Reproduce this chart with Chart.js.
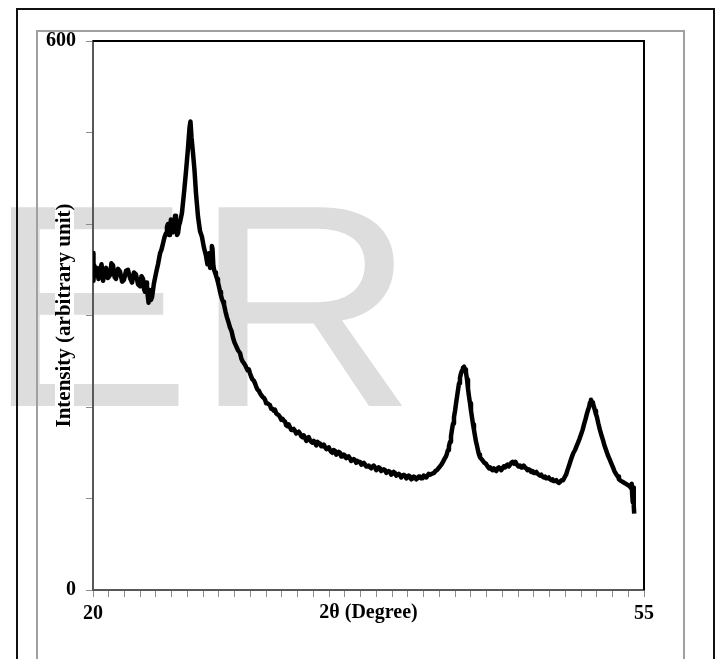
<!DOCTYPE html>
<html>
<head>
<meta charset="utf-8">
<script src="https://cdn.jsdelivr.net/npm/chart.js@4"></script>
<style>
  body { margin: 0; background: #fff; }
  canvas { display: block; }
</style>
</head>
<body>
<canvas id="xrd" width="717" height="659"></canvas>
<script>
// 2 theta positions (degree)
const twoTheta = [
  20.00, 20.03, 20.08, 20.15, 20.25, 20.35, 20.44, 20.54, 20.64, 20.74,
  20.83, 20.95, 21.08, 21.17, 21.27, 21.37, 21.46, 21.59, 21.72, 21.85,
  21.97, 22.10, 22.22, 22.35, 22.48, 22.60, 22.73, 22.86, 22.99, 23.08,
  23.18, 23.24, 23.30, 23.37, 23.43, 23.48, 23.53, 23.58, 23.62, 23.68,
  23.75, 23.87, 24.00, 24.13, 24.26, 24.35, 24.45, 24.55, 24.64, 24.70,
  24.76, 24.83, 24.89, 24.95, 25.02, 25.08, 25.15, 25.21, 25.27, 25.34,
  25.40, 25.47, 25.53, 25.65, 25.78, 25.91, 26.03, 26.13, 26.19, 26.26,
  26.35, 26.45, 26.54, 26.67, 26.80, 26.92, 27.05, 27.18, 27.27, 27.32,
  27.37, 27.44, 27.50, 27.55, 27.59, 27.64, 27.69, 27.75, 27.81, 27.88,
  27.94, 28.01, 28.07, 28.13, 28.19, 28.26, 28.32, 28.42, 28.51, 28.60,
  28.70, 28.80, 28.89, 28.98, 29.08, 29.21, 29.34, 29.42, 29.50, 29.58,
  29.66, 29.74, 29.82, 29.90, 29.97, 30.05, 30.13, 30.21, 30.29, 30.37,
  30.45, 30.53, 30.61, 30.69, 30.77, 30.85, 30.93, 31.00, 31.08, 31.16,
  31.24, 31.32, 31.40, 31.48, 31.56, 31.64, 31.72, 31.80, 31.88, 31.96,
  32.04, 32.12, 32.20, 32.27, 32.35, 32.43, 32.51, 32.59, 32.67, 32.75,
  32.83, 32.91, 32.99, 33.07, 33.15, 33.23, 33.31, 33.39, 33.47, 33.55,
  33.62, 33.70, 33.78, 33.86, 33.94, 34.02, 34.10, 34.18, 34.26, 34.34,
  34.42, 34.50, 34.58, 34.66, 34.74, 34.82, 34.90, 34.98, 35.05, 35.13,
  35.21, 35.29, 35.37, 35.45, 35.53, 35.61, 35.69, 35.77, 35.85, 35.93,
  36.01, 36.08, 36.16, 36.24, 36.32, 36.40, 36.48, 36.56, 36.64, 36.72,
  36.80, 36.88, 36.96, 37.04, 37.12, 37.20, 37.28, 37.36, 37.43, 37.51,
  37.60, 37.67, 37.75, 37.83, 37.91, 37.99, 38.07, 38.15, 38.23, 38.31,
  38.39, 38.47, 38.55, 38.63, 38.70, 38.78, 38.87, 38.94, 39.02, 39.10,
  39.18, 39.26, 39.34, 39.42, 39.50, 39.58, 39.66, 39.74, 39.82, 39.90,
  39.98, 40.06, 40.14, 40.22, 40.30, 40.38, 40.45, 40.53, 40.61, 40.69,
  40.77, 40.85, 40.93, 41.01, 41.09, 41.17, 41.25, 41.33, 41.41, 41.53,
  41.66, 41.75, 41.85, 41.94, 42.04, 42.13, 42.23, 42.32, 42.42, 42.48,
  42.55, 42.61, 42.68, 42.74, 42.80, 42.87, 42.93, 43.00, 43.06, 43.13,
  43.19, 43.25, 43.31, 43.38, 43.44, 43.50, 43.57, 43.63, 43.69, 43.76,
  43.82, 43.88, 43.95, 44.01, 44.08, 44.14, 44.20, 44.27, 44.33, 44.40,
  44.46, 44.52, 44.58, 44.68, 44.77, 44.86, 44.96, 45.03, 45.09, 45.16,
  45.22, 45.30, 45.38, 45.46, 45.54, 45.62, 45.70, 45.78, 45.85, 45.93,
  46.01, 46.09, 46.17, 46.25, 46.33, 46.41, 46.49, 46.57, 46.65, 46.74,
  46.83, 46.93, 47.02, 47.12, 47.20, 47.28, 47.36, 47.44, 47.52, 47.60,
  47.68, 47.76, 47.84, 47.92, 48.00, 48.08, 48.16, 48.24, 48.32, 48.39,
  48.47, 48.55, 48.63, 48.71, 48.79, 48.87, 48.95, 49.03, 49.11, 49.19,
  49.27, 49.35, 49.43, 49.51, 49.59, 49.66, 49.76, 49.86, 49.95, 50.05,
  50.14, 50.24, 50.33, 50.43, 50.52, 50.62, 50.71, 50.81, 50.90, 51.00,
  51.10, 51.19, 51.29, 51.38, 51.45, 51.51, 51.57, 51.63, 51.70, 51.76,
  51.82, 51.89, 51.95, 52.01, 52.10, 52.20, 52.30, 52.39, 52.49, 52.59,
  52.71, 52.84, 52.93, 53.03, 53.12, 53.22, 53.29, 53.35, 53.41, 53.47,
  53.56, 53.66, 53.76, 53.86, 53.95, 54.05, 54.11, 54.18, 54.22, 54.25,
  54.27, 54.30, 54.33, 54.35, 54.37
];

// intensity (arbitrary unit) at the positions above
const intensity = [
  368, 338, 355, 344, 352, 340, 350, 356, 338, 347,
  352, 341, 344, 357, 355, 342, 340, 351, 348, 337,
  339, 349, 350, 341, 336, 347, 345, 334, 332, 343,
  340, 329, 326, 336, 332, 321, 314, 326, 328, 317,
  320, 335, 346, 356, 368, 372, 379, 386, 390, 397,
  400, 388, 393, 405, 404, 391, 392, 409, 406, 388,
  390, 399, 402, 412, 434, 458, 482, 505, 512, 494,
  478, 458, 434, 408, 392, 386, 374, 365, 356, 362,
  368, 352, 356, 376, 373, 356, 350, 347, 344, 340,
  336, 331, 326, 322, 318, 315, 312, 304, 298, 293,
  287, 283, 276, 271, 267, 262, 259, 253, 250, 248,
  246, 243, 240, 241, 237, 233, 230, 229, 226, 222,
  219, 218, 215, 213, 211, 210, 208, 204, 204, 203,
  202, 198, 198, 196, 197, 193, 192, 191, 189, 186,
  187, 185, 184, 180, 179, 181, 178, 175, 175, 176,
  174, 171, 172, 173, 171, 168, 167, 169, 166, 163,
  166, 167, 164, 162, 161, 163, 161, 158, 162, 160,
  160, 157, 157, 159, 156, 154, 155, 156, 153, 151,
  150, 153, 152, 148, 149, 151, 150, 146, 146, 148,
  147, 144, 145, 146, 144, 141, 142, 143, 142, 139,
  141, 140, 140, 137, 138, 139, 137, 135, 135, 136,
  134, 133, 135, 136, 134, 131, 132, 134, 133, 130,
  131, 132, 131, 128, 129, 130, 129, 126, 127, 129,
  128, 125, 126, 127, 126, 123, 125, 126, 125, 122,
  123, 125, 124, 121, 122, 124, 123, 121, 122, 124,
  124, 122, 122, 125, 124, 123, 125, 127, 126, 127,
  128, 130, 131, 133, 135, 137, 140, 143, 146, 149,
  153, 157, 162, 168, 175, 182, 189, 196, 204, 212,
  219, 226, 232, 237, 240, 243, 244, 241, 238, 230,
  220, 212, 204, 196, 188, 181, 175, 168, 162, 157,
  152, 148, 145, 143, 141, 139, 138, 136, 136, 133,
  134, 132, 131, 133, 131, 130, 133, 134, 133, 131,
  133, 135, 134, 136, 137, 135, 137, 139, 140, 138,
  140, 137, 135, 136, 134, 134, 136, 134, 133, 131,
  132, 131, 129, 130, 128, 128, 129, 127, 126, 125,
  126, 124, 123, 124, 122, 122, 123, 121, 120, 121,
  119, 119, 120, 118, 117, 118, 120, 120, 123, 126,
  131, 136, 141, 146, 150, 153, 157, 161, 165, 170,
  175, 181, 187, 193, 197, 200, 205, 208, 205, 204,
  200, 196, 192, 189, 182, 175, 169, 164, 158, 153,
  147, 142, 138, 134, 130, 127, 125, 124, 121, 120,
  119, 118, 117, 116, 115, 114, 113, 111, 116, 104,
  106, 96, 112, 92, 86
];

const xTickLabels = [20, 55];
const yTickLabels = [0, 600];

const points = twoTheta.map(function (t, i) {
  return { x: t, y: intensity[i] };
});

const serifFamily = "'Liberation Serif', 'Times New Roman', serif";
const tickFont = { family: serifFamily, weight: 'bold', size: 20 };

// frames, watermark and white box behind the y title
const framePlugin = {
  id: 'framePlugin',
  beforeDraw(chart) {
    const ctx = chart.ctx;
    ctx.save();
    ctx.fillStyle = '#ffffff';
    ctx.fillRect(0, 0, chart.width, chart.height);

    ctx.save();
    ctx.fillStyle = '#dddddd';
    ctx.font = "289px 'Liberation Sans', Arial, sans-serif";
    ctx.textBaseline = 'alphabetic';
    ctx.textAlign = 'left';
    ctx.scale(1.07, 1);
    ctx.fillText('E', -13.5, 406);
    ctx.fillText('R', 180.6, 406);
    ctx.restore();

    ctx.fillStyle = '#ffffff';
    ctx.fillRect(55, 207, 19, 234);

    ctx.lineWidth = 2;
    ctx.strokeStyle = '#111111';
    ctx.strokeRect(17, 9, 697, 680);
    ctx.strokeStyle = '#a0a0a0';
    ctx.strokeRect(37, 31, 647, 680);
    ctx.restore();
  },
  afterDraw(chart) {
    const a = chart.chartArea;
    const ctx = chart.ctx;
    ctx.save();
    ctx.strokeStyle = '#000000';
    ctx.lineWidth = 2;
    ctx.beginPath();
    ctx.moveTo(a.left, a.top);
    ctx.lineTo(a.right, a.top);
    ctx.lineTo(a.right, a.bottom);
    ctx.stroke();
    ctx.restore();
  }
};

new Chart(document.getElementById('xrd'), {
  type: 'line',
  data: {
    datasets: [{
      data: points,
      borderColor: '#000000',
      borderWidth: 4.5,
      borderJoinStyle: 'round',
      borderCapStyle: 'square',
      pointRadius: 0,
      tension: 0,
      fill: false
    }]
  },
  options: {
    responsive: false,
    animation: false,
    devicePixelRatio: 1,
    layout: { padding: { left: 0, top: 41, right: 73, bottom: 0 } },
    plugins: {
      legend: { display: false },
      tooltip: { enabled: false }
    },
    scales: {
      x: {
        type: 'linear',
        min: 20,
        max: 55,
        afterFit(scale) { scale.height = 69; },
        ticks: {
          stepSize: 1,
          autoSkip: false,
          maxRotation: 0,
          padding: 5,
          color: '#000000',
          font: tickFont,
          callback: function (v) { return xTickLabels.includes(v) ? String(v) : ''; }
        },
        grid: { drawOnChartArea: false, drawTicks: true, tickLength: 7, color: '#8c8c8c', lineWidth: 1 },
        border: { display: true, color: '#585858', width: 2 },
        title: { display: true, text: '2θ (Degree)', color: '#000000', font: tickFont, padding: { top: 0, bottom: 34 } }
      },
      y: {
        min: 0,
        max: 600,
        afterFit(scale) { scale.width = 93; },
        ticks: {
          stepSize: 100,
          autoSkip: false,
          padding: 10,
          color: '#000000',
          font: tickFont,
          callback: function (v) { return yTickLabels.includes(v) ? String(v) : ''; }
        },
        grid: { drawOnChartArea: false, drawTicks: true, tickLength: 7, color: '#8c8c8c', lineWidth: 1 },
        border: { display: true, color: '#585858', width: 2 },
        title: { display: true, text: 'Intensity (arbitrary unit)', color: '#000000', font: { family: serifFamily, weight: 'bold', size: 21 }, padding: { top: 52, bottom: 0 } }
      }
    }
  },
  plugins: [framePlugin]
});
</script>
</body>
</html>
